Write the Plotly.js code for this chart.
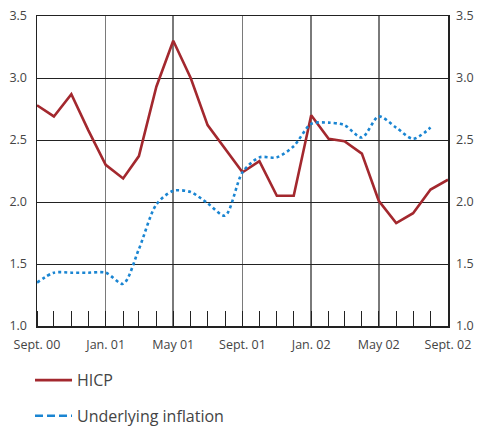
<!DOCTYPE html>
<html>
<head>
<meta charset="utf-8">
<script src="https://cdn.plot.ly/plotly-3.0.1.min.js"></script>
<style>html,body{margin:0;padding:0;background:#fff}#chart{width:480px;height:426px}</style>
</head>
<body>
<div id="chart"></div>
<script>
const months = ["2000-09-01","2000-10-01","2000-11-01","2000-12-01","2001-01-01","2001-02-01","2001-03-01","2001-04-01","2001-05-01","2001-06-01","2001-07-01","2001-08-01","2001-09-01","2001-10-01","2001-11-01","2001-12-01","2002-01-01","2002-02-01","2002-03-01","2002-04-01","2002-05-01","2002-06-01","2002-07-01","2002-08-01","2002-09-01"];
const hicp = [2.78,2.69,2.87,2.58,2.30,2.19,2.37,2.93,3.30,3.00,2.62,2.43,2.24,2.33,2.05,2.05,2.70,2.51,2.49,2.39,2.01,1.83,1.91,2.10,2.18];
const underlying = [1.35,1.43,1.43,1.43,1.43,1.34,1.62,1.98,2.09,2.08,1.99,1.89,2.24,2.36,2.36,2.45,2.63,2.64,2.62,2.52,2.69,2.60,2.51,2.60,null];
const tickDates = ["2000-09-01","2001-01-01","2001-05-01","2001-09-01","2002-01-01","2002-05-01","2002-09-01"];
const tickLabels = ["Sept. 00","Jan. 01","May 01","Sept. 01","Jan. 02","May 02","Sept. 02"];
const yTicks = [1.0,1.5,2.0,2.5,3.0,3.5];
const yLabels = ["1.0","1.5","2.0","2.5","3.0","3.5"];
const names = ["HICP","Underlying inflation"];
const red = "#a3282e", blue = "#1a85d2";

const traces = [
  {x: months, y: hicp, type: "scatter", mode: "lines", name: names[0], showlegend: false,
   line: {color: red, width: 2.6}},
  {x: months, y: underlying, type: "scatter", mode: "lines", name: names[1], showlegend: false,
   line: {color: blue, width: 2.6, dash: "dot", shape: "spline", smoothing: 0.8}},
  {x: [null], y: [null], type: "scatter", mode: "lines", name: names[0], legend: "legend",
   line: {color: red, width: 2.6}},
  {x: [null], y: [null], type: "scatter", mode: "lines", name: names[1], legend: "legend2", yaxis: "y2",
   line: {color: blue, width: 2.6, dash: "8px,4px"}}
];

const fam = "'Open Sans', Roboto, sans-serif";
const tickFont = {family: fam, size: 12.5, color: "#444"};
const legFont = {family: fam, size: 16, color: "#444"};
const layout = {
  width: 480, height: 426,
  margin: {l: 37, r: 32, t: 16, b: 100, autoexpand: false},
  paper_bgcolor: "#fff", plot_bgcolor: "#fff",
  xaxis: {
    type: "date", range: ["2000-09-01", "2002-09-01"],
    tickmode: "array", tickvals: tickDates, ticktext: tickLabels,
    ticks: "", showgrid: true, gridcolor: "#7a7a7a", gridwidth: 1.6,
    showline: true, linecolor: "#222", linewidth: 1.5, mirror: true,
    tickfont: tickFont, ticklabelstandoff: 6, zeroline: false,
    minor: {tickmode: "array", tickvals: months, ticks: "inside", ticklen: 15, tickcolor: "#222", tickwidth: 1, showgrid: false}
  },
  yaxis: {
    range: [1, 3.5], tickmode: "array", tickvals: yTicks, ticktext: yLabels,
    ticks: "", showgrid: true, gridcolor: "#222", gridwidth: 1,
    showline: true, linecolor: "#222", linewidth: 1.5, mirror: true,
    tickfont: tickFont, ticklabelstandoff: 6, zeroline: false
  },
  yaxis2: {
    range: [1, 3.5], overlaying: "y", side: "right", tickmode: "array", tickvals: yTicks, ticktext: yLabels,
    ticks: "", showgrid: false, showline: false, zeroline: false,
    tickfont: tickFont, ticklabelstandoff: 7
  },
  legend: {x: -0.017, xanchor: "left", y: -0.175, yanchor: "middle", bgcolor: "rgba(0,0,0,0)",
    itemwidth: 37, font: legFont},
  legend2: {x: -0.017, xanchor: "left", y: -0.29, yanchor: "middle", bgcolor: "rgba(0,0,0,0)",
    itemwidth: 37, font: legFont},
  showlegend: true
};

Plotly.newPlot("chart", traces, layout, {displayModeBar: false, staticPlot: true});
</script>
</body>
</html>
